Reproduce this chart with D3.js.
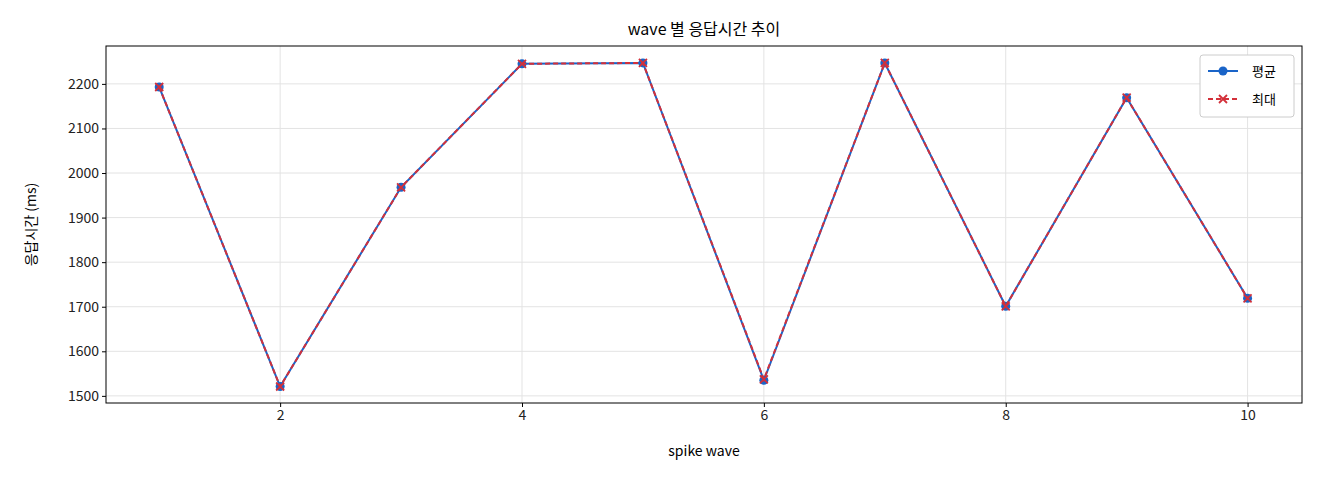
<!DOCTYPE html>
<html><head><meta charset="utf-8">
<script src="https://cdn.jsdelivr.net/npm/d3@7"></script>
<style>body{margin:0;background:#fff;font-family:"Noto Sans CJK KR","Noto Sans",sans-serif}</style>
</head><body><svg id="c" width="1320" height="480"></svg>
<script>
const waves=[1,2,3,4,5,6,7,8,9,10];
const avgMs=[2193,1521,1968,2245,2247,1535,2247,1701,2169,1719];
const maxMs=[2193,1521,1968,2245,2247,1537,2247,1701,2169,1719];
const yTicks=[1500,1600,1700,1800,1900,2000,2100,2200];
const xTicks=[2,4,6,8,10];
const L=106,R=1302,T=46,B=403;
const svg=d3.select("#c");
const x=d3.scaleLinear().domain([0.56,10.45]).range([L,R]);
const y=d3.scaleLinear().domain([1484,2285]).range([B,T]);
const g=svg.append("g");
g.selectAll(".gx").data(xTicks).join("line").attr("x1",d=>x(d)).attr("x2",d=>x(d)).attr("y1",T).attr("y2",B).attr("stroke","#e3e3e3");
g.selectAll(".gy").data(yTicks).join("line").attr("y1",d=>y(d)).attr("y2",d=>y(d)).attr("x1",L).attr("x2",R).attr("stroke","#e3e3e3");
const ax=svg.append("g").attr("transform",`translate(0,${B})`).call(d3.axisBottom(x).tickValues(xTicks).tickFormat(d3.format("d")).tickSize(4).tickSizeOuter(0));
const ay=svg.append("g").attr("transform",`translate(${L},0)`).call(d3.axisLeft(y).tickValues(yTicks).tickFormat(d3.format("d")).tickSize(4).tickSizeOuter(0));
[ax,ay].forEach(a=>{a.select(".domain").remove();a.selectAll("text").attr("font-size",14).attr("fill","#222").attr("font-family","'Noto Sans CJK KR',sans-serif");});
svg.append("rect").attr("x",L).attr("y",T).attr("width",R-L).attr("height",B-T).attr("fill","none").attr("stroke","#000");
const line=d3.line().x((d,i)=>x(waves[i])).y(d=>y(d));
const blue="#1a64c8",red="#d3303a";
svg.append("path").attr("d",line(avgMs)).attr("fill","none").attr("stroke",blue).attr("stroke-width",2);
svg.selectAll(".pa").data(avgMs).join("circle").attr("cx",(d,i)=>x(waves[i])).attr("cy",d=>y(d)).attr("r",4.5).attr("fill",blue);
svg.append("path").attr("d",line(maxMs)).attr("fill","none").attr("stroke",red).attr("stroke-width",2).attr("stroke-dasharray","5,3");
const cross=(sel,cx,cy)=>{sel.append("path").attr("d",`M${cx-4},${cy-4}L${cx+4},${cy+4}M${cx-4},${cy+4}L${cx+4},${cy-4}`).attr("stroke",red).attr("stroke-width",1.8);};
maxMs.forEach((d,i)=>cross(svg,x(waves[i]),y(d)));
svg.append("text").attr("x",(L+R)/2).attr("y",35).attr("text-anchor","middle").attr("font-size",16).text("wave 별 응답시간 추이");
svg.append("text").attr("x",(L+R)/2).attr("y",456).attr("text-anchor","middle").attr("font-size",14).text("spike wave");
svg.append("text").attr("transform",`translate(36,${(T+B)/2}) rotate(-90)`).attr("text-anchor","middle").attr("font-size",14).text("응답시간 (ms)");
const lg=svg.append("g").attr("transform","translate(1200,55)");
lg.append("rect").attr("width",94).attr("height",62).attr("rx",3).attr("fill","#fff").attr("stroke","#ccc");
lg.append("line").attr("x1",8).attr("x2",38).attr("y1",16).attr("y2",16).attr("stroke",blue).attr("stroke-width",2);
lg.append("circle").attr("cx",23).attr("cy",16).attr("r",4.5).attr("fill",blue);
lg.append("text").attr("x",52).attr("y",21).attr("font-size",13).text("평균");
lg.append("line").attr("x1",8).attr("x2",38).attr("y1",44).attr("y2",44).attr("stroke",red).attr("stroke-width",2).attr("stroke-dasharray","5,3");
cross(lg,23,44);
lg.append("text").attr("x",52).attr("y",49).attr("font-size",13).text("최대");
</script></body></html>
